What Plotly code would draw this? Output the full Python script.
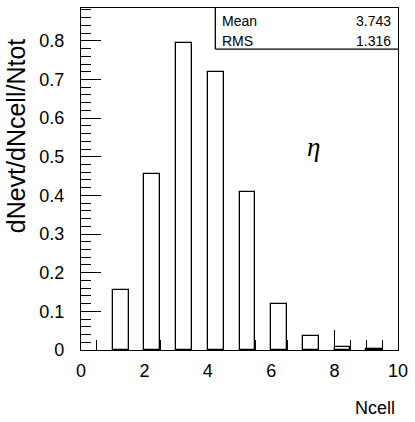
import plotly.graph_objects as go

# Data
ncell_low = [1, 2, 3, 4, 5, 6, 7, 8, 9]
bin_width = 0.5
values = [0.155, 0.455, 0.795, 0.72, 0.41, 0.12, 0.035, 0.007, 0.002]
x_ticks = [0, 2, 4, 6, 8, 10]
y_ticks = [0, 0.1, 0.2, 0.3, 0.4, 0.5, 0.6, 0.7, 0.8]
stats_names = ["Mean", "RMS"]
stats_values = ["3.743", "1.316"]

FONT = "Liberation Sans, Arial, sans-serif"

centers = [v + bin_width / 2 for v in ncell_low]

fig = go.Figure()
fig.add_trace(go.Bar(
    x=centers, y=values, width=bin_width,
    marker=dict(color="white", line=dict(color="black", width=1.3)),
    showlegend=False, hoverinfo="skip",
))

fig.update_layout(
    width=415, height=422,
    margin=dict(l=81, r=13, t=7, b=72),
    plot_bgcolor="white", paper_bgcolor="white",
    font=dict(family=FONT, color="black"),
    bargap=0,
)

fig.update_xaxes(
    range=[0, 10], tickvals=x_ticks, ticktext=[str(t) for t in x_ticks],
    ticks="inside", ticklen=20, tickwidth=1, tickcolor="black",
    minor=dict(dtick=0.5, tick0=0, ticks="inside", ticklen=10, tickcolor="black", tickwidth=1),
    showline=True, linecolor="black", linewidth=1.3, mirror=True,
    showgrid=False, zeroline=False, layer="below traces",
    tickfont=dict(size=18, family=FONT), ticklabelstandoff=4,
)
fig.update_yaxes(
    range=[0, 0.885], tickvals=y_ticks, ticktext=["0"] + [f"{t:.1f}" for t in y_ticks[1:]],
    ticks="inside", ticklen=20, tickwidth=1, tickcolor="black",
    minor=dict(dtick=0.02, tick0=0, ticks="inside", ticklen=10, tickcolor="black", tickwidth=1),
    showline=True, linecolor="black", linewidth=1.3, mirror=True,
    showgrid=False, zeroline=False,
    tickfont=dict(size=18, family=FONT), ticklabelstandoff=12,
)

# Axis titles
fig.add_annotation(
    text="dNevt/dNcell/Ntot", textangle=-90, xref="paper", yref="paper",
    x=-0.205, y=0.625, xanchor="center", yanchor="middle", showarrow=False,
    font=dict(size=25, family=FONT),
)
fig.add_annotation(
    text="Ncell", xref="paper", yref="paper",
    x=0.996, y=-0.206, xanchor="right", yanchor="bottom", showarrow=False,
    font=dict(size=18, family=FONT),
)

# Stats box
fig.add_shape(type="line", xref="paper", yref="paper", x0=0.4237, x1=0.4237, y0=0.880, y1=1.0,
              line=dict(color="black", width=1.3))
fig.add_shape(type="line", xref="paper", yref="paper", x0=0.4237, x1=1.0, y0=0.880, y1=0.880,
              line=dict(color="black", width=1.3))
ys = [0.962, 0.904]
for name, val, yy in zip(stats_names, stats_values, ys):
    fig.add_annotation(text=name, xref="paper", yref="paper", x=0.439, y=yy,
                       xanchor="left", yanchor="middle", showarrow=False,
                       font=dict(size=14, family=FONT))
    fig.add_annotation(text=val, xref="paper", yref="paper", x=0.983, y=yy,
                       xanchor="right", yanchor="middle", showarrow=False,
                       font=dict(size=14, family=FONT))

# eta label
fig.add_annotation(text="<i>η</i>", xref="paper", yref="paper", x=0.735, y=0.595,
                   xanchor="center", yanchor="middle", showarrow=False,
                   font=dict(size=27, family="Liberation Serif, Times New Roman, serif"))

fig.write_html("out.html")
